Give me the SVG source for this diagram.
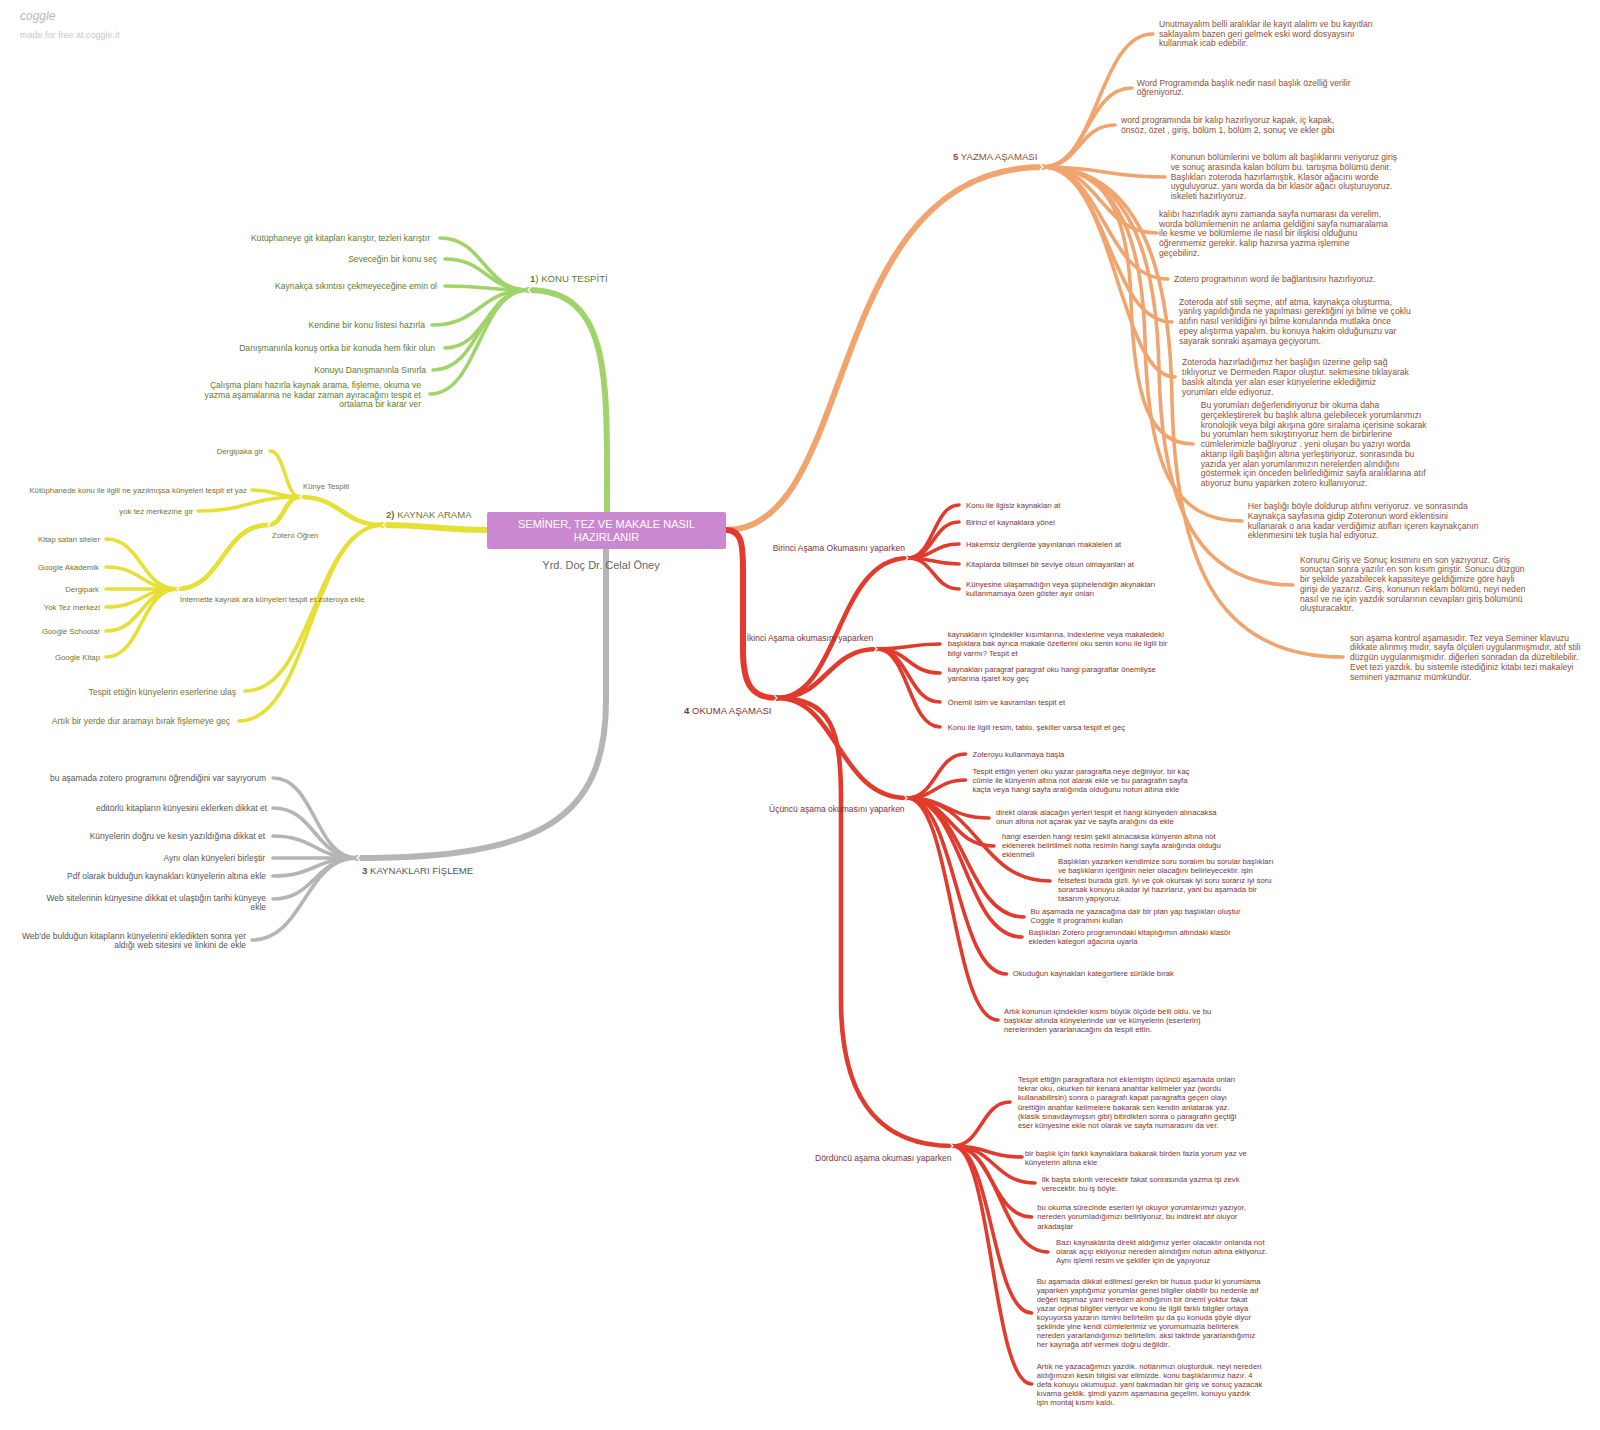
<svg xmlns="http://www.w3.org/2000/svg" width="1600" height="1430" viewBox="0 0 1600 1430">
<style>
.b{fill:none;stroke-linecap:round}
.g{stroke:#a0d46a}.y{stroke:#e6df34}.k{stroke:#b5b5b5}.o{stroke:#f1a46d}.r{stroke:#e23a2c}
.w1{stroke-width:6}.w2{stroke-width:4.6}.w3{stroke-width:3.6}
.ch{fill:none;stroke:#fff;stroke-width:1.2;stroke-linejoin:miter}
text{font-family:"Liberation Sans",Arial,sans-serif}
.tg{fill:#5b7b2e;font-size:8.6px}
.ty{fill:#77712f;font-size:7.8px}
.ty2{fill:#77712f;font-size:8.6px}
.tk{fill:#555;font-size:8.5px}
.to{fill:#8c4f34;font-size:8.6px}
.tr{fill:#7d3434;font-size:7.7px}
.tr2{fill:#7d3434;font-size:8.5px}
.h{font-size:9.6px}
.e{text-anchor:end}
</style>
<rect width="1600" height="1430" fill="#fff"/>
<g id="logo">
<text x="20" y="20" font-family="DejaVu Serif,serif" font-style="italic" font-size="12" fill="#b8b8b8">coggle</text>
<text x="20" y="37.5" font-size="9" fill="#c8c8c8">made for free at coggle.it</text>
</g>
<g id="connectors">
<!-- green -->
<path class="b g w1" d="M607 511 C607 380 612 290 528 290"/>
<path class="b g w3" d="M528 290 C484 290 484 238 440 238"/>
<path class="b g w3" d="M528 290 C486.5 290 486.5 259 445 259"/>
<path class="b g w3" d="M528 290 C486.5 290 486.5 286 445 286"/>
<path class="b g w3" d="M528 290 C480 290 480 325 432 325"/>
<path class="b g w3" d="M528 290 C486.5 290 486.5 348 445 348"/>
<path class="b g w3" d="M528 290 C480.5 290 480.5 370 433 370"/>
<path class="b g w3" d="M528 290 C479 290 479 394 430 394"/>
<!-- yellow -->
<path class="b y w1" d="M487 530 C440 530 430 525 383 525"/>
<path class="b y w2" d="M383 525 C341.5 525 341.5 497 300 497"/>
<path class="b y w3" d="M300 497 C285 497 285 451 270 451"/>
<path class="b y w3" d="M300 497 C276 497 276 490 252 490"/>
<path class="b y w3" d="M300 497 C249 497 249 511 198 511"/>
<path class="b y w2" d="M300 497 C284 497 284 525 268 525"/>
<path class="b y w2" d="M268 525 C222.5 525 222.5 589 177 589"/>
<path class="b y w3" d="M177 589 C141.5 589 141.5 539 106 539"/>
<path class="b y w3" d="M177 589 C141.5 589 141.5 567 106 567"/>
<path class="b y w3" d="M177 589 C141.5 589 141.5 589 106 589"/>
<path class="b y w3" d="M177 589 C141.5 589 141.5 607 106 607"/>
<path class="b y w3" d="M177 589 C141.5 589 141.5 631 106 631"/>
<path class="b y w3" d="M177 589 C141.5 589 141.5 657 106 657"/>
<path class="b y w3" d="M383 525 C314 525 314 691 245 691"/>
<path class="b y w3" d="M383 525 C311 525 311 721 239 721"/>
<!-- grey -->
<path class="b k w1" d="M606 549 L606 700 C606 820 540 858 357 858"/>
<path class="b k w3" d="M357 858 C315 858 315 778 273 778"/>
<path class="b k w3" d="M357 858 C315 858 315 808 273 808"/>
<path class="b k w3" d="M357 858 C315 858 315 836 273 836"/>
<path class="b k w3" d="M357 858 C315 858 315 858 273 858"/>
<path class="b k w3" d="M357 858 C315 858 315 876 273 876"/>
<path class="b k w3" d="M357 858 C315 858 315 899 273 899"/>
<path class="b k w3" d="M357 858 C304.5 858 304.5 940 252 940"/>
<!-- orange -->
<path class="b o w1" d="M726 530 C860 530 820 167 1043 167"/>
<path class="b o w3" d="M1043 167 C1098 167 1098 34 1153 34"/>
<path class="b o w3" d="M1043 167 C1087 167 1087 88 1132 88"/>
<path class="b o w3" d="M1043 167 C1079 167 1079 125 1115 125"/>
<path class="b o w3" d="M1043 167 C1104 167 1104 177 1165 177"/>
<path class="b o w3" d="M1043 167 C1100 167 1100 233 1157 233"/>
<path class="b o w3" d="M1043 167 C1104 167 1104 279 1168 279"/>
<path class="b o w3" d="M1043 167 C1108 167 1108 322 1172 322"/>
<path class="b o w3" d="M1043 167 C1115 167 1118 377 1175 377"/>
<path class="b o w3" d="M1043 167 C1105 167 1128 210 1131 300 C1134 400 1150 444 1193 444"/>
<path class="b o w3" d="M1043 167 C1110 167 1142 225 1145 340 C1148 470 1175 521 1242 521"/>
<path class="b o w3" d="M1043 167 C1116 167 1156 230 1159 370 C1162 520 1205 585 1293 585"/>
<path class="b o w3" d="M1043 167 C1122 167 1170 235 1172 400 C1176 580 1228 657 1343 657"/>
<!-- red -->
<path class="b r w1" d="M726 530 C742 530 743 545 743 570 L743 650 C743 685 752 698 777 698"/>
<path class="b r w2" d="M777 698 C840 698 836 558 908 558"/>
<path class="b r w2" d="M777 698 C827 698 827 649 877 649"/>
<path class="b r w2" d="M777 698 C838 698 838 798 907 798"/>
<path class="b r w2" d="M777 698 C832 698 841 730 841 800 L841 1000 C841 1090 872 1146 953 1146"/>
<path class="b r w3" d="M908 558 C933.5 558 933.5 505 959 505"/>
<path class="b r w3" d="M908 558 C933.5 558 933.5 522 959 522"/>
<path class="b r w3" d="M908 558 C933.5 558 933.5 544 959 544"/>
<path class="b r w3" d="M908 558 C933.5 558 933.5 564 959 564"/>
<path class="b r w3" d="M908 558 C933.5 558 933.5 589 959 589"/>
<path class="b r w3" d="M877 649 C908.5 649 908.5 644 940 644"/>
<path class="b r w3" d="M877 649 C908.5 649 908.5 673 940 673"/>
<path class="b r w3" d="M877 649 C908.5 649 908.5 702 940 702"/>
<path class="b r w3" d="M877 649 C908.5 649 908.5 727 940 727"/>
<path class="b r w3" d="M907 798 C936 798 936 754 965.5 754"/>
<path class="b r w3" d="M907 798 C936 798 936 780 965.5 780"/>
<path class="b r w3" d="M907 798 C948 798 948 818 989 818"/>
<path class="b r w3" d="M907 798 C950 798 950 846 994 846"/>
<path class="b r w3" d="M907 798 C978 798 978 881 1050 881"/>
<path class="b r w3" d="M907 798 C965 798 965 917 1024 917"/>
<path class="b r w3" d="M907 798 C964 798 964 937 1022 937"/>
<path class="b r w3" d="M907 798 C956 798 956 974 1006.5 974"/>
<path class="b r w3" d="M907 798 C952 798 952 1020 998 1020"/>
<path class="b r w3" d="M953 1146 C981.5 1146 981.5 1102 1010 1102"/>
<path class="b r w3" d="M953 1146 C987.5 1146 987.5 1157 1022 1157"/>
<path class="b r w3" d="M953 1146 C994 1146 994 1183 1035 1183"/>
<path class="b r w3" d="M953 1146 C992 1146 992 1217 1031.7 1217"/>
<path class="b r w3" d="M953 1146 C1000 1146 1000 1252 1048 1252"/>
<path class="b r w3" d="M953 1146 C992 1146 992 1313 1031.7 1313"/>
<path class="b r w3" d="M953 1146 C992 1146 992 1384 1031.7 1384"/>
<!-- junction chevrons -->
<polyline class="ch" points="531,287 528,290 531,293"/>
<polyline class="ch" points="386,522 383,525 386,528"/>
<polyline class="ch" points="303,494 300,497 303,500"/>
<polyline class="ch" points="271,522 268,525 271,528"/>
<polyline class="ch" points="180,586 177,589 180,592"/>
<polyline class="ch" points="360,855 357,858 360,861"/>
<polyline class="ch" points="1040,164 1043,167 1040,170"/>
<polyline class="ch" points="774,695 777,698 774,701"/>
<polyline class="ch" points="905,555 908,558 905,561"/>
<polyline class="ch" points="874,646 877,649 874,652"/>
<polyline class="ch" points="904,795 907,798 904,801"/>
<polyline class="ch" points="950,1143 953,1146 950,1149"/>
</g>
<g id="root">
<rect x="487" y="512" width="239" height="37" rx="2" fill="#c988d0"/>
<text x="606.5" y="528" font-size="11" fill="#fff" text-anchor="middle">SEMİNER, TEZ VE MAKALE NASIL</text>
<text x="606.5" y="540.6" font-size="11" fill="#fff" text-anchor="middle">HAZIRLANIR</text>
<text x="601" y="569" font-size="11" fill="#666" text-anchor="middle">Yrd. Doç Dr. Celal Öney</text>
</g>
<!-- green -->
<g id="konu-tespiti"><text class="tg h" x="530" y="281.5"><tspan font-weight="bold">1</tspan>) KONU TESPİTİ</text></g>
<g id="g1"><text class="tg e" x="430" y="241">Kütüphaneye git kitapları karıştır, tezleri karıştır</text></g>
<g id="g2"><text class="tg e" x="437" y="262">Seveceğin bir konu seç</text></g>
<g id="g3"><text class="tg e" x="437" y="289">Kaynakça sıkıntısı çekmeyeceğine emin ol</text></g>
<g id="g4"><text class="tg e" x="425" y="328">Kendine bir konu listesi hazırla</text></g>
<g id="g5"><text class="tg e" x="435" y="351">Danışmanınla konuş ortka bir konuda hem fikir olun</text></g>
<g id="g6"><text class="tg e" x="426" y="373">Konuyu Danışmanınla Sınırla</text></g>
<g id="g7"><text class="tg e" x="421" y="388"><tspan x="421" y="388">Çalışma planı hazırla kaynak arama, fişleme, okuma ve</tspan><tspan x="421" y="397.7">yazma aşamalarına ne kadar zaman ayıracağını tespit et</tspan><tspan x="421" y="407.4">ortalama bir karar ver</tspan></text></g>
<!-- yellow -->
<g id="kaynak-arama"><text class="ty h" x="386" y="517.5"><tspan font-weight="bold">2)</tspan> KAYNAK ARAMA</text></g>
<g id="kunye-tespiti"><text class="ty" x="303" y="489">Künye Tespiti</text></g>
<g id="y1"><text class="ty e" x="263" y="453.8">Dergipaka gir</text></g>
<g id="y2"><text class="ty e" x="247" y="492.8">Kütüphanede konu ile ilgili ne yazılmışsa künyeleri tespit et yaz</text></g>
<g id="y3"><text class="ty e" x="193" y="513.8">yok tez merkezine gir</text></g>
<g id="zotero-ogren"><text class="ty" x="272" y="538">Zotero Öğren</text></g>
<g id="internette"><text class="ty" x="180" y="602">İnternette kaynak ara künyeleri tespit et zoteroya ekle</text></g>
<g id="y4"><text class="ty e" x="100" y="541.8">Kitap satan siteler</text></g>
<g id="y5"><text class="ty e" x="99" y="569.5">Google Akademik</text></g>
<g id="y6"><text class="ty e" x="99" y="591.8">Dergipark</text></g>
<g id="y7"><text class="ty e" x="100" y="609.5">Yok Tez merkezi</text></g>
<g id="y8"><text class="ty e" x="100" y="633.5">Google Schoolar</text></g>
<g id="y9"><text class="ty e" x="100" y="659.5">Google Kitap</text></g>
<g id="y10"><text class="ty2 e" x="236" y="694.5">Tespit ettiğin künyelerin eserlerine ulaş</text></g>
<g id="y11"><text class="ty2 e" x="230" y="724">Artık bir yerde dur aramayı bırak fişlemeye geç</text></g>
<!-- grey -->
<g id="fisleme"><text class="tk h" x="362" y="873.5"><tspan font-weight="bold">3</tspan> KAYNAKLARI FİŞLEME</text></g>
<g id="k1"><text class="tk e" x="266" y="780.7">bu aşamada zotero programını öğrendiğini var sayıyorum</text></g>
<g id="k2"><text class="tk e" x="267" y="811">editörlü kitapların künyesini eklerken dikkat et</text></g>
<g id="k3"><text class="tk e" x="265" y="839">Künyelerin doğru ve kesin yazıldığına dikkat et</text></g>
<g id="k4"><text class="tk e" x="265" y="861">Aynı olan künyeleri birleştir</text></g>
<g id="k5"><text class="tk e" x="266" y="879">Pdf olarak bulduğun kaynakları künyelerin altına ekle</text></g>
<g id="k6"><text class="tk e" x="266" y="900.7"><tspan x="266" y="900.7">Web sitelerinin künyesine dikkat et ulaştığın tarihi künyeye</tspan><tspan x="266" y="910">ekle</tspan></text></g>
<g id="k7"><text class="tk e" x="246" y="938.7"><tspan x="246" y="938.7">Web'de bulduğun kitapların künyelerini ekledikten sonra yer</tspan><tspan x="246" y="948.4">aldığı web sitesini ve linkini de ekle</tspan></text></g>
<!-- orange -->
<g id="yazma"><text class="to h" x="953" y="160"><tspan font-weight="bold">5</tspan> YAZMA AŞAMASI</text></g>
<g id="o1"><text class="to"><tspan x="1159" y="27">Unutmayalım belli aralıklar ile kayıt alalım ve bu kayıtları</tspan><tspan x="1159" y="36.7">saklayalım bazen geri gelmek eski word dosyaysını</tspan><tspan x="1159" y="46.4">kullanmak icab edebilir.</tspan></text></g>
<g id="o2"><text class="to"><tspan x="1136.7" y="85.7">Word Programında başlık nedir nasıl başlık özelliğ verilir</tspan><tspan x="1136.7" y="95.3">öğreniyoruz.</tspan></text></g>
<g id="o3"><text class="to"><tspan x="1121" y="123">word programında bir kalıp hazırlıyoruz kapak, iç kapak,</tspan><tspan x="1121" y="133">önsöz, özet , giriş, bölüm 1, bölüm 2, sonuç ve ekler gibi</tspan></text></g>
<g id="o4"><text class="to"><tspan x="1170.7" y="160">Konunun bölümlerini ve bölüm alt başlıklarını veriyoruz giriş</tspan><tspan x="1170.7" y="169.8">ve sonuç arasında kalan bölüm bu. tartışma bölümü denir.</tspan><tspan x="1170.7" y="179.5">Başlıkları zoteroda hazırlamıştık. Klasör ağacını worde</tspan><tspan x="1170.7" y="189.3">uyguluyoruz. yani worda da bir klasör ağacı oluşturuyoruz.</tspan><tspan x="1170.7" y="199">iskeleti hazırlıyoruz.</tspan></text></g>
<g id="o5"><text class="to"><tspan x="1159" y="217">kalıbı hazırladık aynı zamanda sayfa numarası da verelim,</tspan><tspan x="1159" y="226.7">worda bölümlemenin ne anlama geldiğini sayfa numaralama</tspan><tspan x="1159" y="236.4">ile kesme ve bölümleme ile nasıl bir ilişkisi olduğunu</tspan><tspan x="1159" y="246.2">öğrenmemiz gerekir. kalıp hazırsa yazma işlemine</tspan><tspan x="1159" y="256">geçebiliriz.</tspan></text></g>
<g id="o6"><text class="to" x="1174" y="282.3">Zotero programının word ile bağlantısını hazırlıyoruz.</text></g>
<g id="o7"><text class="to"><tspan x="1179" y="304.7">Zoteroda atıf stili seçme, atıf atma, kaynakça oluşturma,</tspan><tspan x="1179" y="314.4">yanlış yapıldığında ne yapılması gerektiğini iyi bilme ve çoklu</tspan><tspan x="1179" y="324.2">atıfın nasıl verildiğini iyi bilme konularında mutlaka önce</tspan><tspan x="1179" y="334">epey alıştırma yapalım. bu konuya hakim olduğunuzu var</tspan><tspan x="1179" y="343.7">sayarak sonraki aşamaya geçiyorum.</tspan></text></g>
<g id="o8"><text class="to"><tspan x="1182" y="365.3">Zoteroda hazırladığımız her başlığın üzerine gelip sağ</tspan><tspan x="1182" y="375">tıklıyoruz ve Dermeden Rapor oluştur. sekmesine tıklayarak</tspan><tspan x="1182" y="384.8">baslık altında yer alan eser künyelerine eklediğimiz</tspan><tspan x="1182" y="394.5">yorumları elde ediyoruz.</tspan></text></g>
<g id="o9"><text class="to"><tspan x="1200.7" y="408">Bu yorumları değerlendiriyoruz bir okuma daha</tspan><tspan x="1200.7" y="417.75">gerçekleştirerek bu başlık altına gelebilecek yorumlarımızı</tspan><tspan x="1200.7" y="427.5">kronolojik veya bilgi akışına göre sıralama içerisine sokarak</tspan><tspan x="1200.7" y="437.25">bu yorumları hem sıkıştırıyoruz hem de birbirlerine</tspan><tspan x="1200.7" y="447">cümlelerimizle bağlıyoruz . yeni oluşan bu yazıyı worda</tspan><tspan x="1200.7" y="456.75">aktarıp ilgili başlığın altına yerleştiriyoruz. sonrasında bu</tspan><tspan x="1200.7" y="466.5">yazıda yer alan yorumlarımızın nerelerden alındığını</tspan><tspan x="1200.7" y="476.25">göstermek için önceden belirlediğimiz sayfa aralıklarına atıf</tspan><tspan x="1200.7" y="486">atıyoruz bunu yaparken zotero kullanıyoruz.</tspan></text></g>
<g id="o10"><text class="to"><tspan x="1247.7" y="509">Her başlığı böyle doldurup atıfını veriyoruz. ve sonrasında</tspan><tspan x="1247.7" y="518.75">Kaynakça sayfasına gidip Zoteronun word eklentisini</tspan><tspan x="1247.7" y="528.5">kullanarak o ana kadar verdiğimiz atıfları içeren kaynakçanın</tspan><tspan x="1247.7" y="538.25">eklenmesini tek tuşla hal ediyoruz.</tspan></text></g>
<g id="o11"><text class="to"><tspan x="1300" y="562.7">Konunu Giriş ve Sonuç kısımını en son yazıyoruz. Giriş</tspan><tspan x="1300" y="572.4">sonuçtan sonra yazılır en son kısım giriştir. Sonucu düzgün</tspan><tspan x="1300" y="582.2">bir şekilde yazabilecek kapasiteye geldiğimize göre hayli</tspan><tspan x="1300" y="592">girişi de yazarız. Giriş, konunun reklam bölümü, neyi neden</tspan><tspan x="1300" y="601.7">nasıl ve ne için yazdık sorularının cevapları giriş bölümünü</tspan><tspan x="1300" y="611.4">oluşturacaktır.</tspan></text></g>
<g id="o12"><text class="to"><tspan x="1350" y="640.7">son aşama kontrol aşamasıdır. Tez veya Seminer klavuzu</tspan><tspan x="1350" y="650.4">dikkate alınmış mıdır, sayfa ölçüleri uygulanmışmıdır, atıf stili</tspan><tspan x="1350" y="660.2">düzgün uygulanmışmıdır. diğerleri sonradan da düzeltilebilir.</tspan><tspan x="1350" y="670">Evet tezi yazdık. bu sistemle istediğiniz kitabı tezi makaleyi</tspan><tspan x="1350" y="679.7">semineri yazmanız mümkündür.</tspan></text></g>
<!-- red -->
<g id="okuma"><text class="tr2 h" x="684" y="713.5"><tspan font-weight="bold">4</tspan> OKUMA AŞAMASI</text></g>
<g id="birinci"><text class="tr2" x="772.7" y="550.7">Birinci Aşama Okumasını yaparken</text></g>
<g id="r-b1"><text class="tr" x="966" y="507.8">Konu ile ilgisiz kaynakları at</text></g>
<g id="r-b2"><text class="tr" x="966" y="525">Birinci el kaynaklara yönel</text></g>
<g id="r-b3"><text class="tr" x="966" y="546.8">Hakemsiz dergilerde yayınlanan makaleleri at</text></g>
<g id="r-b4"><text class="tr" x="966" y="566.8">Kitaplarda bilimsel bir seviye olsun olmayanları at</text></g>
<g id="r-b5"><text class="tr"><tspan x="966" y="587">Künyesine ulaşamadığın veya şüphelendiğin akynakları</tspan><tspan x="966" y="596.4">kullanmamaya özen göster ayır onları</tspan></text></g>
<g id="ikinci"><text class="tr2" x="746.7" y="641.3">İkinci Aşama okumasını yaparken</text></g>
<g id="r-i1"><text class="tr"><tspan x="947.7" y="637">kaynakların içindekiler kısımlarına, indexlerine veya makaledeki</tspan><tspan x="947.7" y="646.4">başlıklara bak ayrıca makale özetlerini oku senin konu ile ilgili bir</tspan><tspan x="947.7" y="655.6">bilgi varmı? Tespit et</tspan></text></g>
<g id="r-i2"><text class="tr"><tspan x="947.7" y="671.8">kaynakları paragraf paragraf oku hangi paragraflar önemliyse</tspan><tspan x="947.7" y="681">yanlarına işaret koy geç</tspan></text></g>
<g id="r-i3"><text class="tr" x="947.7" y="704.5">Önemli isim ve kavramları tespit et</text></g>
<g id="r-i4"><text class="tr" x="947.7" y="730">Konu ile ilgili resim, tablo, şekiller varsa tespit et geç</text></g>
<g id="ucuncu"><text class="tr2" x="769" y="812">Üçüncü aşama okumasını yaparken</text></g>
<g id="r-u1"><text class="tr" x="972.5" y="757">Zoteroyu kullanmaya başla</text></g>
<g id="r-u2"><text class="tr"><tspan x="972.5" y="773.5">Tespit ettiğin yerleri oku yazar paragrafta neye değiniyor, bir kaç</tspan><tspan x="972.5" y="782.8">cümle ile künyenin altına not alarak ekle ve bu paragrafın sayfa</tspan><tspan x="972.5" y="792">kaçta veya hangi sayfa aralığında olduğunu notun altına ekle</tspan></text></g>
<g id="r-u3"><text class="tr"><tspan x="996" y="815">direkt olarak alacağın yerleri tespit et hangi künyeden alınacaksa</tspan><tspan x="996" y="824.4">onun altına not açarak yaz ve sayfa aralığını da ekle</tspan></text></g>
<g id="r-u4"><text class="tr"><tspan x="1002" y="838.5">hangi eserden hangi resim şekil alınacaksa künyenin altına not</tspan><tspan x="1002" y="847.8">eklenerek belirtilmeli notta resimin hangi sayfa aralığında olduğu</tspan><tspan x="1002" y="857">eklenmeli</tspan></text></g>
<g id="r-u5"><text class="tr"><tspan x="1058" y="864">Başlıkları yazarken kendimize soru soralım bu sorular başlıkları</tspan><tspan x="1058" y="873.4">ve başlıkların içeriğinin neler olacağını belirleyecektir. işin</tspan><tspan x="1058" y="882.7">felsefesi burada gizli. İyi ve çok okursak iyi soru sorarız iyi soru</tspan><tspan x="1058" y="892">sorarsak konuyu okadar iyi hazırlarız, yani bu aşamada bir</tspan><tspan x="1058" y="901.4">tasarım yapıyoruz.</tspan></text></g>
<g id="r-u6"><text class="tr"><tspan x="1030.4" y="913.5">Bu aşamada ne yazacağına dair bir plan yap başlıkları oluştur</tspan><tspan x="1030.4" y="922.8">Coggle İt programını kullan</tspan></text></g>
<g id="r-u7"><text class="tr"><tspan x="1028.6" y="934.8">Başlıkları Zotero programındaki kitaplığımın altındaki klasör</tspan><tspan x="1028.6" y="944">ekleden kategori ağacına uyarla</tspan></text></g>
<g id="r-u8"><text class="tr" x="1012.8" y="976">Okuduğun kaynakları kategorilere sürükle bırak</text></g>
<g id="r-u9"><text class="tr"><tspan x="1004" y="1013.5">Artık konunun içindekiler kısmı büyük ölçüde belli oldu. ve bu</tspan><tspan x="1004" y="1022.8">başlıklar altında künyelerinde var ve künyelerin (eserlerin)</tspan><tspan x="1004" y="1032">nerelerinden yararlanacağını da tespit ettin.</tspan></text></g>
<g id="dorduncu"><text class="tr2" x="815" y="1160.7">Dördüncü aşama okuması yaparken</text></g>
<g id="r-d1"><text class="tr"><tspan x="1018" y="1081.8">Tespit ettiğin paragraflara not eklemiştin üçüncü aşamada onları</tspan><tspan x="1018" y="1091">tekrar oku, okurken bir kenara anahtar kelimeler yaz (wordu</tspan><tspan x="1018" y="1100.3">kullanabilirsin) sonra o paragrafı kapat paragrafta geçen olayı</tspan><tspan x="1018" y="1109.5">ürettiğin anahtar kelimelere bakarak sen kendin anlatarak yaz.</tspan><tspan x="1018" y="1118.8">(klasik sınavdaymışsın gibi) bitirdikten sonra o paragrafın geçtiği</tspan><tspan x="1018" y="1128">eser künyesine ekle not olarak ve sayfa numarasını da ver.</tspan></text></g>
<g id="r-d2"><text class="tr"><tspan x="1025" y="1155.5">bir başlık için farklı kaynaklara bakarak birden fazla yorum yaz ve</tspan><tspan x="1025" y="1164.5">künyelerin altına ekle</tspan></text></g>
<g id="r-d3"><text class="tr"><tspan x="1041.7" y="1181.8">İlk başta sıkıntı verecektir fakat sonrasında yazma işi zevk</tspan><tspan x="1041.7" y="1191">verecektir. bu iş böyle.</tspan></text></g>
<g id="r-d4"><text class="tr"><tspan x="1037.3" y="1210">bu okuma sürecinde eserleri iyi okuyor yorumlarımızı yazıyor,</tspan><tspan x="1037.3" y="1219.2">nereden yorumladığımızı belirtiyoruz, bu indirekt atıf oluyor</tspan><tspan x="1037.3" y="1228.5">arkadaşlar</tspan></text></g>
<g id="r-d5"><text class="tr"><tspan x="1056" y="1244.5">Bazı kaynaklarda direkt aldığımız yerler olacaktır onlarıda not</tspan><tspan x="1056" y="1253.8">olarak açıp ekliyoruz nereden alındığını notun altına ekliyoruz.</tspan><tspan x="1056" y="1263">Aynı işlemi resim ve şekiller için de yapıyoruz</tspan></text></g>
<g id="r-d6"><text class="tr"><tspan x="1036.7" y="1283.5">Bu aşamada dikkat edilmesi gerekn bir husus şudur ki yorumlama</tspan><tspan x="1036.7" y="1292.6">yaparken yaptığımız yorumlar genel bilgiler olabilir bu nedenle aıf</tspan><tspan x="1036.7" y="1301.7">değeri taşımaz yani nereden alındığının bir önemi yoktur fakat</tspan><tspan x="1036.7" y="1310.8">yazar orjinal bilgiler veriyor ve konu ile ilgili farklı bilgiler ortaya</tspan><tspan x="1036.7" y="1319.9">koyuyorsa yazarın ismini belirtelim şu da şu konuda şöyle diyor</tspan><tspan x="1036.7" y="1329">şeklinde yine kendi cümlelerimiz ve yorumumuzla belirterek</tspan><tspan x="1036.7" y="1338.1">nereden yararlandığımızı belirtelim. aksi taktirde yararlandığımız</tspan><tspan x="1036.7" y="1347.2">her kaynağa atıf vermek doğru değildir.</tspan></text></g>
<g id="r-d7"><text class="tr"><tspan x="1036.7" y="1368.8">Artık ne yazacağımızı yazdık. notlarımızı oluşturduk. neyi nereden</tspan><tspan x="1036.7" y="1377.9">aldığımızın kesin bilgisi var elimizde. konu başlıklarımız hazır. 4</tspan><tspan x="1036.7" y="1387">defa konuyu okumuşuz. yani bakmadan bir giriş ve sonuç yazacak</tspan><tspan x="1036.7" y="1396.1">kıvama geldik. şimdi yazım aşamasına geçelim. konuyu yazdık</tspan><tspan x="1036.7" y="1405.2">işin montaj kısmı kaldı.</tspan></text></g>
</svg>
